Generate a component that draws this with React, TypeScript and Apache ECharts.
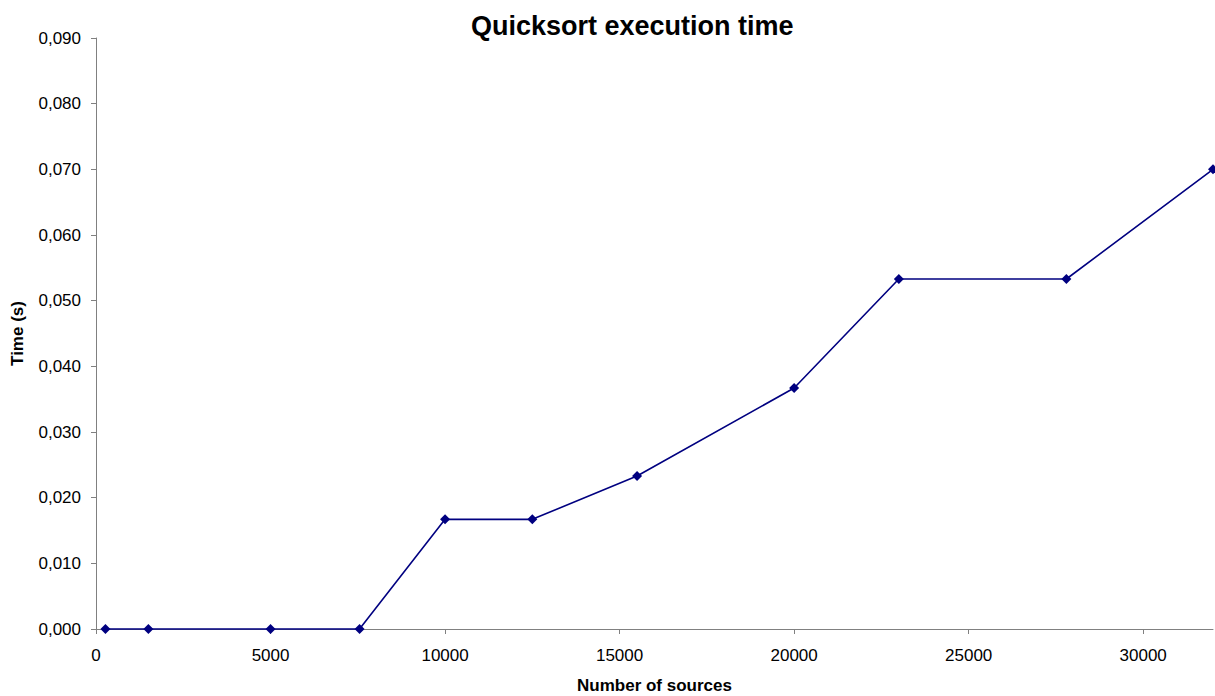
import React, { useEffect, useRef } from "react";
import * as echarts from "echarts";

const sources: number[] = [270, 1500, 5000, 7550, 10000, 12500, 15500, 20000, 23000, 27800, 32000];
const times: number[] = [0, 0, 0, 0, 0.0167, 0.0167, 0.0233, 0.0367, 0.0533, 0.0533, 0.07];
const xTicks: number[] = [0, 5000, 10000, 15000, 20000, 25000, 30000];
const yTicks: number[] = [0, 0.01, 0.02, 0.03, 0.04, 0.05, 0.06, 0.07, 0.08, 0.09];

const FONT = "'Liberation Sans', Arial, sans-serif";

export default function App() {
  const ref = useRef<HTMLDivElement>(null);
  useEffect(() => {
    if (!ref.current) return;
    const chart = echarts.init(ref.current, null, { renderer: "svg" });
    chart.setOption({
      animation: false,
      backgroundColor: "#ffffff",
      title: {
        text: "Quicksort execution time",
        left: 466,
        top: 7,
        textStyle: { fontFamily: FONT, fontSize: 27, fontWeight: "bold", color: "#000" },
      },
      grid: { left: 96, right: 2, top: 38, bottom: 67, outerBoundsMode: "none", containLabel: false },
      xAxis: {
        type: "value",
        min: 0,
        max: 32000,
        interval: 5000,
        name: "Number of sources",
        nameLocation: "middle",
        nameGap: 48,
        nameTextStyle: { fontFamily: FONT, fontSize: 17, fontWeight: "bold", color: "#000" },
        splitLine: { show: false },
        axisLine: { show: true, lineStyle: { color: "#808080", width: 1 } },
        axisTick: { show: true, length: 5, lineStyle: { color: "#808080" }, customValues: xTicks },
        axisLabel: {
          fontFamily: FONT,
          fontSize: 17,
          color: "#000",
          margin: 18,
          customValues: xTicks,
          formatter: (v: number) => String(v),
        },
      },
      yAxis: {
        type: "value",
        min: 0,
        max: 0.09,
        interval: 0.01,
        name: "Time (s)",
        nameLocation: "middle",
        nameGap: 70,
        nameTextStyle: { fontFamily: FONT, fontSize: 17, fontWeight: "bold", color: "#000" },
        splitLine: { show: false },
        axisLine: { show: true, lineStyle: { color: "#808080", width: 1 } },
        axisTick: { show: true, length: 5, lineStyle: { color: "#808080" }, customValues: yTicks },
        axisLabel: {
          fontFamily: FONT,
          fontSize: 17,
          color: "#000",
          margin: 15,
          customValues: yTicks,
          formatter: (v: number) => v.toFixed(3).replace(".", ","),
        },
      },
      series: [
        {
          type: "line",
          data: sources.map((s, i) => [s, times[i]]),
          symbol: "diamond",
          symbolSize: 10,
          clip: false,
          lineStyle: { color: "#000080", width: 1.6 },
          itemStyle: { color: "#000080" },
        },
      ],
    });
    return () => chart.dispose();
  }, []);
  return (
    <div
      ref={ref}
      style={{ position: "fixed", left: 0, top: 0, width: 1215, height: 696 }}
    />
  );
}
